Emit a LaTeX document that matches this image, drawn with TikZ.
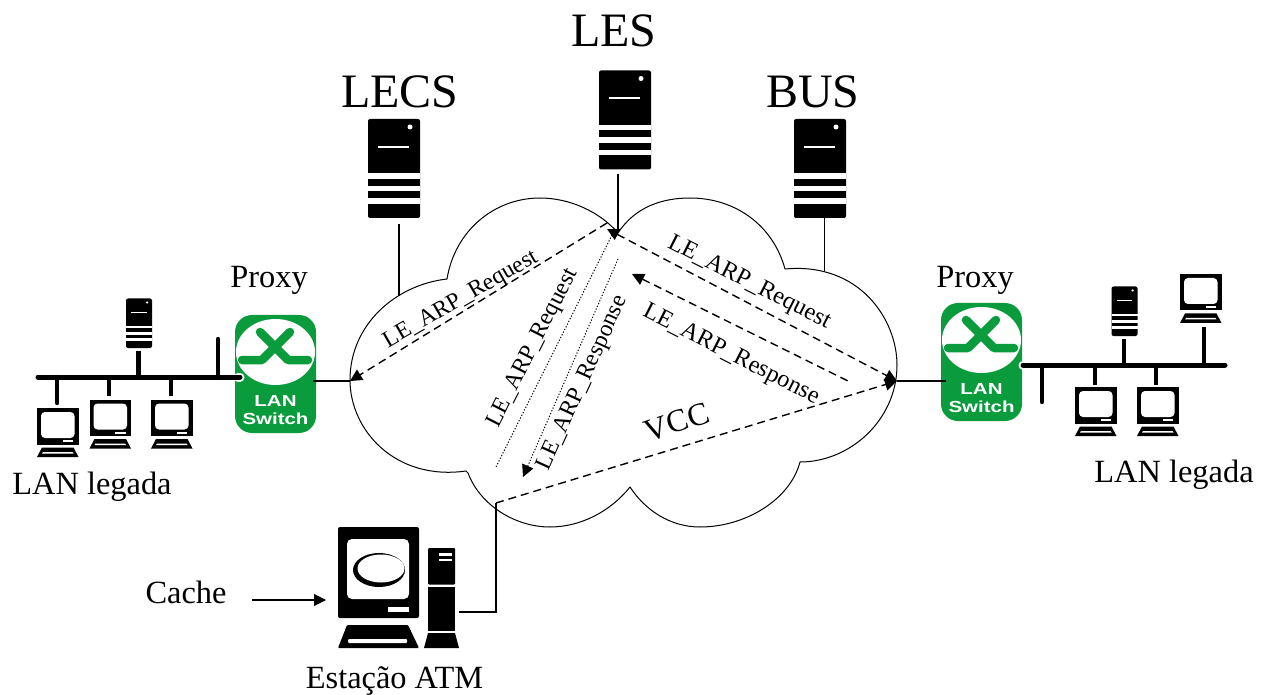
\documentclass[tikz,border=0pt]{standalone}
\usepackage{fontspec}
\usepackage{graphicx}
\setmainfont{Liberation Serif}
\newfontfamily\swfont{Liberation Sans}
\usetikzlibrary{arrows.meta}
\definecolor{swgreen}{RGB}{9,155,60}
\tikzset{
  lbl/.style={inner sep=0pt,font=\fontsize{32.4}{33}\selectfont,anchor=base},
  big/.style={inner sep=0pt,font=\fontsize{48}{48}\selectfont,anchor=base},
  msg/.style={inner sep=0pt,font=\fontsize{24.3}{25}\selectfont},
  msgs/.style={inner sep=0pt,font=\fontsize{23.6}{25}\selectfont},
  link/.style={line width=1.1pt},
  stub/.style={line width=4.4pt,line cap=round},
  bus/.style={line width=5pt,line cap=round},
  dashlink/.style={line width=1.4pt,dash pattern=on 8pt off 5pt},
  dotlink/.style={line width=1pt,dash pattern=on 1.2pt off 1.8pt},
  tip/.style={-{Triangle[length=12pt,width=12pt]}},
  rtip/.style={{Triangle[length=12pt,width=12pt]}-},
  btip/.style={{Triangle[length=12pt,width=12pt]}-{Triangle[length=12pt,width=12pt]}},
  swtext/.style={inner sep=0pt,text=white,font=\swfont\bfseries\fontsize{16}{17}\selectfont,anchor=base}
}
\newcommand{\serverIcon}[3]{%
  \begin{scope}[shift={(#1,#2)},scale=#3]
    \fill[black,rounded corners=2pt] (0,0) rectangle (52,99);
    \fill[white] (42,8) circle (2.5);
    \draw[white,line width=#3*2pt] (10,28) -- (41,28);
    \fill[white] (0,54.5) rectangle (52,60);
    \fill[white] (0,67) rectangle (52,72.5);
    \fill[white] (0,79.5) rectangle (52,85);
  \end{scope}}
\newcommand{\monitorIcon}[2]{%
  \begin{scope}[shift={(#1,#2)}]
    \fill[black] (0,0) rectangle (41.5,36.5);
    \fill[white,rounded corners=4pt] (4,4) rectangle (37.5,30);
    \fill[white] (25.5,32) rectangle (36,34);
    \fill[black] (5,39.5) -- (36.5,39.5) -- (41.5,49) -- (0,49) -- cycle;
    \fill[white] (6,44) -- (35.5,44) -- (36.5,45.5) -- (5,45.5) -- cycle;
  \end{scope}}
\newcommand{\switchIcon}[2]{%
  \begin{scope}[shift={(#1,#2)}]
    \fill[swgreen,rounded corners=17pt] (0,0) rectangle (81,118);
    \fill[white] (40.5,37) ellipse (39.5 and 33);
    \draw[swgreen,line width=8.5pt,line cap=round,line join=round] (7,45) -- (27,45) -- (55,17);
    \draw[swgreen,line width=8.5pt,line cap=round,line join=round] (25,17) -- (53,45) -- (73,45);
  \end{scope}}
\begin{document}
\begin{tikzpicture}[x=1pt,y=-1pt]
\useasboundingbox (0,0) rectangle (1262,695);
% cloud
\draw[line width=1pt,line join=round] (618,233)
  .. controls (635,207) and (662,198) .. (690,198)
  .. controls (735,198) and (773,225) .. (785,269)
  .. controls (860,262) and (897,320) .. (897,365)
  .. controls (897,420) and (850,462) .. (800,462)
  .. controls (790,500) and (745,527) .. (700,527)
  .. controls (670,527) and (645,510) .. (630,487)
  .. controls (610,512) and (580,527) .. (550,527)
  .. controls (515,527) and (480,505) .. (468,473)
  -- (466,471)
  .. controls (395,481) and (350,430) .. (350,380)
  .. controls (350,325) and (395,285) .. (447,279)
  .. controls (455,230) and (495,198) .. (540,198)
  .. controls (570,198) and (600,212) .. (618,233);
% named end points
\coordinate (lesbot) at (618,174);
\coordinate (cusp) at (618,233);
\coordinate (arpR) at (607,229);
\coordinate (lecsbot) at (399,224);
\coordinate (lecscloud) at (399,296);
\coordinate (busbot) at (824.5,218);
\coordinate (buscloud) at (824.5,271);
\coordinate (swL) at (313,381);
\coordinate (cloudL) at (350,381);
\coordinate (swR) at (946,381);
\coordinate (cloudR) at (897,381);
\coordinate (arpstart) at (607,223);
\coordinate (rsp1) at (632,274);
\coordinate (rsp2) at (850,382);
\coordinate (dot1a) at (612,235);
\coordinate (dot1b) at (496,467);
\coordinate (dot2a) at (618,259);
\coordinate (dot2b) at (523,477);
\coordinate (atmout) at (459,612);
\coordinate (atmcorner) at (496,612);
\coordinate (atmcloud) at (496,503);
\coordinate (cachefrom) at (252,600);
\coordinate (cacheto) at (326,600);
% servers
\serverIcon{368}{119}{1}
\serverIcon{599}{70.5}{1}
\serverIcon{794}{119}{1}
\serverIcon{126}{298.5}{0.5}
\serverIcon{1111.5}{286.5}{0.5}
% switches
\switchIcon{235}{315}
\switchIcon{941}{303}
\node[swtext] (lanL) at (275.5,406) {\scalebox{1.28}[1]{LAN}};
\node[swtext] (swiL) at (275.5,424) {\scalebox{1.28}[1]{Switch}};
\node[swtext] (lanR) at (981.5,394) {\scalebox{1.28}[1]{LAN}};
\node[swtext] (swiR) at (981.5,412) {\scalebox{1.28}[1]{Switch}};
% left LAN
\coordinate (busLa) at (38,377);
\coordinate (busLb) at (240,377);
\draw[white,line width=9pt,line cap=round] (busLb) -- +(-2,0);
\draw[bus] (busLa) -- (busLb);
\draw[stub] (57,377) -- (57,403);
\draw[stub,line cap=butt] (109,377) -- (109,396);
\draw[stub,line cap=butt] (138.5,377) -- (138.5,351);
\draw[stub,line cap=butt] (171,377) -- (171,396);
\draw[stub] (218,377) -- (218,339);
\monitorIcon{37}{408}
\monitorIcon{89.5}{399.5}
\monitorIcon{151}{399.5}
% right LAN
\coordinate (busRa) at (1023,365);
\coordinate (busRb) at (1225,365);
\draw[white,line width=9pt,line cap=round] (busRa) -- +(2,0);
\draw[bus] (busRa) -- (busRb);
\draw[stub] (1042,365) -- (1042,402);
\draw[stub,line cap=butt] (1095,365) -- (1095,385);
\draw[stub,line cap=butt] (1124,365) -- (1124,339);
\draw[stub,line cap=butt] (1156,365) -- (1156,385);
\draw[stub,line cap=butt] (1204,365) -- (1204,327);
\monitorIcon{1180}{274}
\monitorIcon{1075}{387}
\monitorIcon{1137}{387}
% ATM station
\fill[black,rounded corners=2pt] (338,527) rectangle (419,618);
\fill[white,rounded corners=5pt] (347,539) rectangle (409,599);
\fill[black] (379,570) ellipse (26 and 17);
\fill[white] (381,568.5) ellipse (23.5 and 14);
\fill[white] (388,607) rectangle (409,612);
\fill[black,rounded corners=1pt] (347,625) -- (408,625) -- (419,648) -- (338,648) -- cycle;
\fill[white,rounded corners=1pt] (348,639) rectangle (407,643);
\fill[black,rounded corners=1pt] (428,548) rectangle (455,584.5);
\fill[black] (428,587) rectangle (455,631);
\fill[black] (428,633) -- (455,633) -- (459,648) -- (424,648) -- cycle;
\fill[white] (439,553) rectangle (452,555.5);
\fill[white] (439,558.5) rectangle (452,561);
% connectors
\draw[link] (lecsbot) -- (lecscloud);
\draw[link] (busbot) -- (buscloud);
\draw[link] (lesbot) -- (cusp);
\draw[link] (swL) -- (cloudL);
\draw[link] (swR) -- (cloudR);
\draw[link,line width=1.3pt] (atmout) -- (atmcorner) -- (atmcloud);
\draw[link,tip] (cachefrom) -- (cacheto);
\draw[dashlink,tip] (arpstart) -- (cloudL);
\draw[dashlink,btip] (arpR) -- (cloudR);
\draw[dashlink,rtip] (rsp1) -- (rsp2);
\draw[dashlink,tip] (atmcloud) -- (cloudR);
\draw[dotlink] (dot1a) -- (dot1b);
\draw[dotlink,tip] (dot2a) -- (dot2b);
% labels
\node[big] (les) at (614,47) {LES};
\node[big] (lecs) at (400,108) {LECS};
\node[big] (bus) at (813,108) {BUS};
\node[lbl] (proxyL) at (269,287.5) {Proxy};
\node[lbl] (proxyR) at (975,287.5) {Proxy};
\node[lbl] (legL) at (92,494) {LAN legada};
\node[lbl] (legR) at (1174,482) {LAN legada};
\node[lbl] (cache) at (186,603) {Cache};
\node[lbl] (atm) at (394.5,688) {Estação ATM};
\node[msgs,rotate=30] (m1) at (461,300) {LE\_ARP\_Request};
\node[msgs,rotate=63] (m2) at (533,348) {LE\_ARP\_Request};
\node[msgs,rotate=65.5] (m3) at (583,383) {LE\_ARP\_Response};
\node[msg,rotate=-27] (m4) at (749,283) {LE\_ARP\_Request};
\node[msg,rotate=-27] (m5) at (731,355) {LE\_ARP\_Response};
\node[inner sep=0pt,rotate=18,font=\fontsize{32}{32}\selectfont] (vcc) at (677,422) {VCC};
\end{tikzpicture}
\end{document}
